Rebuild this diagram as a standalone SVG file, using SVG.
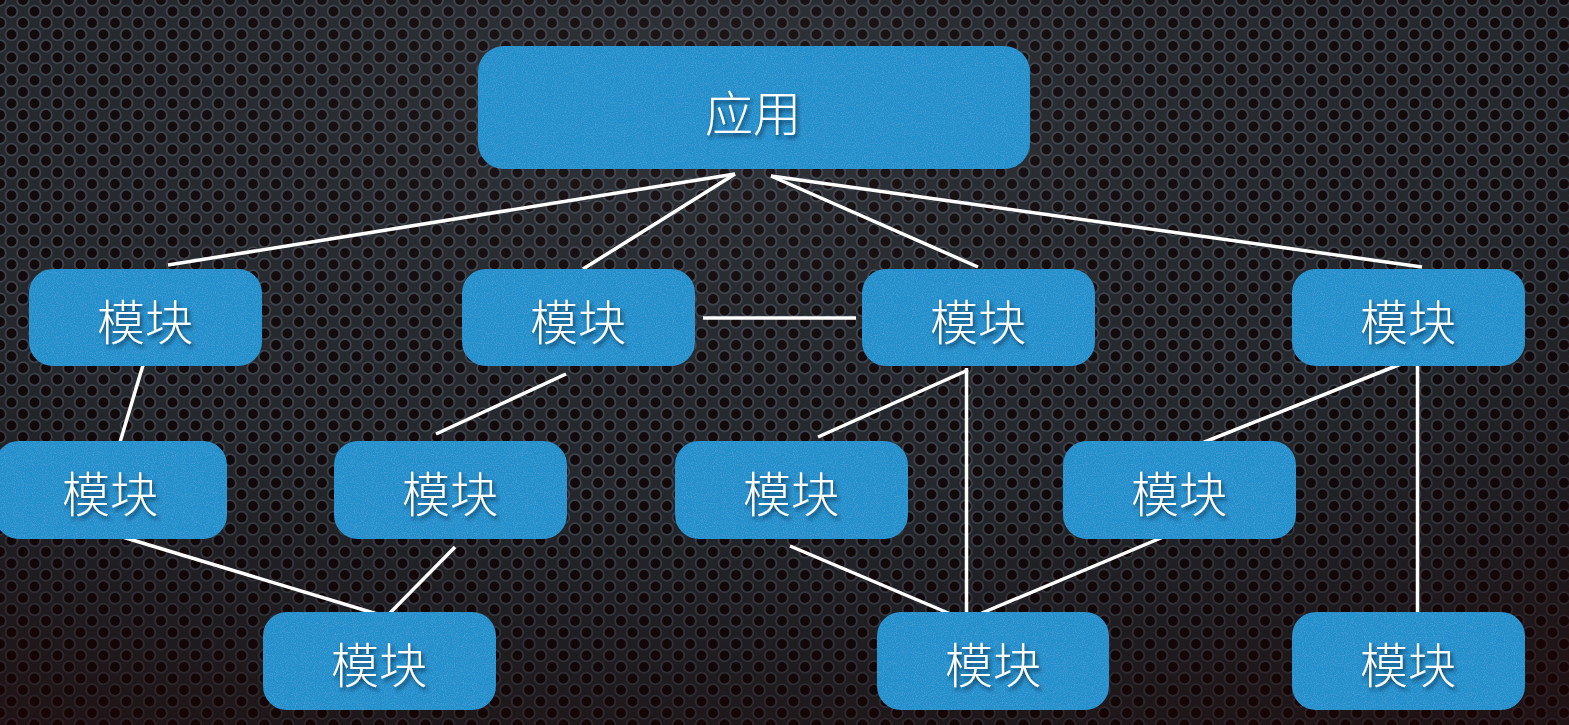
<svg xmlns="http://www.w3.org/2000/svg" width="1569" height="725" viewBox="0 0 1569 725">
  <defs>
    <!-- perforated metal texture -->
    <pattern id="mesh" width="23" height="23" patternUnits="userSpaceOnUse">
      <rect width="23" height="23" fill="#272a2f"/>
      <g class="hole">
        <circle cx="0" cy="0" r="6.8"/>
        <circle cx="23" cy="0" r="6.8"/>
        <circle cx="0" cy="23" r="6.8"/>
        <circle cx="23" cy="23" r="6.8"/>
        <circle cx="11.5" cy="11.5" r="6.8"/>
      </g>
      <g class="pit">
        <circle cx="0" cy="0" r="4.9"/>
        <circle cx="23" cy="0" r="4.9"/>
        <circle cx="0" cy="23" r="4.9"/>
        <circle cx="23" cy="23" r="4.9"/>
        <circle cx="11.5" cy="11.5" r="4.9"/>
      </g>
    </pattern>
    <radialGradient id="shade" cx="0.45" cy="0.15" r="0.95">
      <stop offset="0" stop-color="#6a6f78" stop-opacity="0.16"/>
      <stop offset="0.55" stop-color="#000000" stop-opacity="0.05"/>
      <stop offset="1" stop-color="#1a0000" stop-opacity="0.55"/>
    </radialGradient>
    <!-- fine grain on the blue boxes -->
    <filter id="grain" x="0" y="0" width="1" height="1">
      <feTurbulence type="fractalNoise" baseFrequency="0.9" numOctaves="2" seed="3" result="n"/>
      <feColorMatrix in="n" type="matrix" values="0 0 0 0 0.45  0 0 0 0 0.75  0 0 0 0 0.95  0 0 0 0.3 -0.13" result="speck"/>
      <feComposite in="speck" in2="SourceGraphic" operator="in" result="s"/>
      <feMerge><feMergeNode in="SourceGraphic"/><feMergeNode in="s"/></feMerge>
    </filter>
    <filter id="tshadow" x="-20%" y="-20%" width="150%" height="150%">
      <feDropShadow dx="2" dy="3" stdDeviation="2" flood-color="#05243a" flood-opacity="0.8"/>
    </filter>
  </defs>
  <style>
    .hole circle { fill: #40454e; }
    .pit circle { fill: #120a0c; }
    .box { fill: #2290cc; filter: url(#grain); }
    .lbl { fill: #ffffff; font-family: "Noto Sans CJK SC", "Noto Sans CJK JP", sans-serif; font-weight: 300; font-size: 48px; text-anchor: middle; dominant-baseline: central; filter: url(#tshadow); }
    .link { stroke: #ffffff; stroke-width: 3.5; fill: none; stroke-linecap: butt; }
  </style>

  <!-- background -->
  <rect width="1569" height="725" fill="url(#mesh)"/>
  <rect width="1569" height="725" fill="url(#shade)"/>

  <!-- connectors -->
  <g id="connectors" class="link">
    <line x1="735" y1="174" x2="168" y2="265"/>
    <line x1="735" y1="174" x2="583" y2="269"/>
    <line x1="771" y1="176" x2="978" y2="267"/>
    <line x1="771" y1="176" x2="1422" y2="267"/>
    <line x1="703" y1="318" x2="856" y2="318"/>
    <line x1="146" y1="355" x2="118" y2="449"/>
    <line x1="566" y1="374" x2="436" y2="434"/>
    <line x1="968" y1="370" x2="818" y2="437"/>
    <line x1="966.5" y1="368" x2="966.5" y2="613"/>
    <line x1="1416" y1="358" x2="1187" y2="449"/>
    <line x1="1417.5" y1="366" x2="1417.5" y2="612"/>
    <line x1="116" y1="535" x2="387" y2="617"/>
    <line x1="455" y1="547" x2="386" y2="617"/>
    <line x1="790" y1="546" x2="960" y2="618"/>
    <line x1="1168" y1="535" x2="975" y2="616"/>
  </g>

  <!-- nodes -->
  <g id="app">
    <rect class="box" x="478" y="46" width="552" height="123" rx="26"/>
    <text class="lbl" x="753" y="110">应用</text>
  </g>
  <g id="mod-a">
    <rect class="box" x="29" y="269" width="233" height="97" rx="24"/>
    <text class="lbl" x="145" y="319">模块</text>
  </g>
  <g id="mod-b">
    <rect class="box" x="462" y="269" width="233" height="97" rx="24"/>
    <text class="lbl" x="578" y="319">模块</text>
  </g>
  <g id="mod-c">
    <rect class="box" x="862" y="269" width="233" height="97" rx="24"/>
    <text class="lbl" x="978" y="319">模块</text>
  </g>
  <g id="mod-d">
    <rect class="box" x="1292" y="269" width="233" height="97" rx="24"/>
    <text class="lbl" x="1408" y="319">模块</text>
  </g>
  <g id="mod-e">
    <rect class="box" x="-5" y="441" width="232" height="98" rx="24"/>
    <text class="lbl" x="110" y="491">模块</text>
  </g>
  <g id="mod-f">
    <rect class="box" x="334" y="441" width="233" height="98" rx="24"/>
    <text class="lbl" x="450" y="491">模块</text>
  </g>
  <g id="mod-g">
    <rect class="box" x="675" y="441" width="233" height="98" rx="24"/>
    <text class="lbl" x="791" y="491">模块</text>
  </g>
  <g id="mod-h">
    <rect class="box" x="1063" y="441" width="233" height="98" rx="24"/>
    <text class="lbl" x="1179" y="491">模块</text>
  </g>
  <g id="mod-i">
    <rect class="box" x="263" y="612" width="233" height="98" rx="24"/>
    <text class="lbl" x="379" y="662">模块</text>
  </g>
  <g id="mod-j">
    <rect class="box" x="877" y="612" width="232" height="98" rx="24"/>
    <text class="lbl" x="993" y="662">模块</text>
  </g>
  <g id="mod-k">
    <rect class="box" x="1292" y="612" width="233" height="98" rx="24"/>
    <text class="lbl" x="1408" y="662">模块</text>
  </g>
</svg>
